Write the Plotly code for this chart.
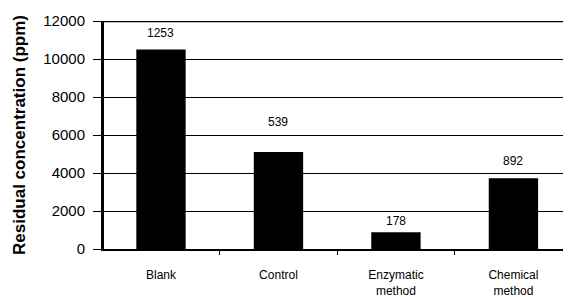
import plotly.graph_objects as go

categories = ["Blank", "Control", "Enzymatic<br>method", "Chemical<br>method"]
values = [10500, 5100, 880, 3730]
labels = ["1253", "539", "178", "892"]
label_yshift = [17, 30, 11, 17]
y_ticks = [0, 2000, 4000, 6000, 8000, 10000, 12000]
y_ticktext = ["0", "2000", "4000", "6000", "8000", "10000", "12000"]

fig = go.Figure()
fig.add_trace(go.Bar(
    x=categories, y=values,
    marker=dict(color="black", line=dict(width=0)),
    width=0.42,
))
for c, v, t, s in zip(categories, values, labels, label_yshift):
    fig.add_annotation(x=c, y=v, text=t, showarrow=False, yshift=s,
                       font=dict(family="Liberation Sans, Arial", size=12, color="black"))

# page body has an 8px default margin; margins compensate for it
fig.update_layout(
    width=571, height=297,
    margin=dict(l=96, r=8, t=13, b=56),
    paper_bgcolor="white", plot_bgcolor="white",
    showlegend=False,
    font=dict(family="Liberation Sans, Arial", color="black"),
    xaxis=dict(
        range=[-0.485, 3.49], showgrid=False, automargin=False,
        showline=True, linecolor="black", linewidth=1.5,
        ticks="outside", tickson="boundaries", ticklen=4, tickcolor="black",
        tickfont=dict(size=12), ticklabelstandoff=14,
    ),
    yaxis=dict(
        range=[0, 12000], tickvals=y_ticks, ticktext=y_ticktext, automargin=False,
        showgrid=True, gridcolor="black", gridwidth=1.2,
        showline=True, linecolor="black", linewidth=3,
        ticks="outside", ticklen=8, tickcolor="black",
        tickfont=dict(size=15), ticklabelstandoff=5,
        title=dict(text="<b>Residual concentration (ppm)</b>", font=dict(size=17), standoff=14),
        zeroline=False,
    ),
)
fig.add_shape(type="line", xref="paper", yref="y", x0=0, x1=1, y0=12000, y1=12000,
              line=dict(color="black", width=2.5))
fig.write_html("out.html")
